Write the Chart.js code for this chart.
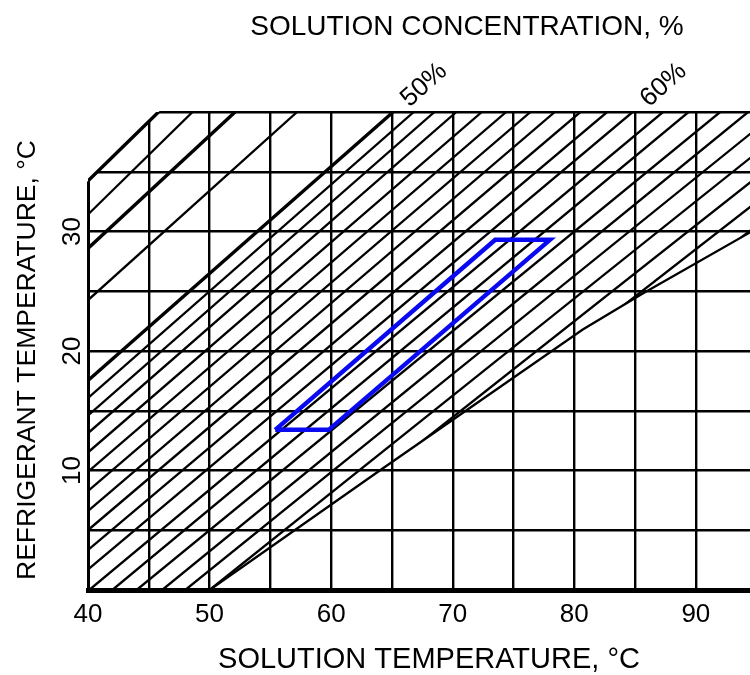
<!DOCTYPE html>
<html>
<head>
<meta charset="utf-8">
<script src="https://cdn.jsdelivr.net/npm/chart.js@4/dist/chart.umd.min.js"></script>
<style>
  html, body { margin: 0; padding: 0; background: #ffffff; overflow: hidden; }
  /* the plot runs off the right edge of the page */
  #wrap { width: 750px; height: 675px; overflow: hidden; position: relative; }
  #chart { position: absolute; left: 0; top: 0; }
</style>
</head>
<body>
<div id="wrap"><canvas id="chart" width="770" height="675"></canvas></div>
<script>
// LiBr–water equilibrium (Dühring) chart.
// Each concentration line is given by the solution temperature (°C) where it
// meets refrigerant temperature 0 °C and 40 °C.
const concentrations     = [34, 37, 40, 45, 50, 51, 52, 53, 54, 55, 56, 57, 58, 59, 60, 61, 62, 63, 64, 65, 66, 67, 68, 69];
const solTempAtRefrig0   = [5.5, 8.5, 9.7, 13.5, 20.4, 22.0, 23.6, 25.2, 26.9, 28.7, 30.5, 32.4, 34.2, 36.1, 38.0, 40.1, 42.0, 44.0, 46.1, 48.0, 50.0, 52.0, 54.0, 55.9];
const solTempAtRefrig40  = [45.8, 48.6, 52.1, 57.2, 65.1, 66.8, 68.5, 70.3, 72.4, 74.4, 76.4, 78.4, 80.5, 82.7, 84.8, 87.3, 89.4, 92.0, 94.3, 96.7, 99.2, 101.8, 104.5, 107.2];

// Crystallization boundary (solution temperature, refrigerant temperature)
const crystSolTemp    = [50.0, 64.0, 80.7, 85.6, 97.0];
const crystRefrigTemp = [0.0, 10.0, 21.8, 24.8, 31.4];

// Operating cycle outline
const cycleSolTemp    = [55.4, 59.8, 78.0, 73.5, 55.4];
const cycleRefrigTemp = [13.4, 13.4, 29.3, 29.3, 13.4];

// Axis ticks and labelled concentrations
const xTickLabels = [40, 50, 60, 70, 80, 90];
const yTickLabels = [10, 20, 30];
const labelledConcentrations = [50, 60];

const X_MIN = 40, X_MAX = 96.1, Y_MIN = 0, Y_MAX = 40, GRID_STEP = 5;
const FONT = "'Liberation Sans', Arial, sans-serif";
const HEAVY = new Set([34, 40, 50]);

const datasets = [];
datasets.push({
  label: 'cycle',
  data: cycleSolTemp.map((x, i) => ({ x, y: cycleRefrigTemp[i] })),
  showLine: true, borderColor: '#0a0af0', borderWidth: 4.5,
  borderJoinStyle: 'miter', pointRadius: 0, order: 0, tension: 0
});
datasets.push({
  label: 'crystallization',
  data: crystSolTemp.map((x, i) => ({ x, y: crystRefrigTemp[i] })),
  showLine: true, borderColor: '#000', borderWidth: 2.3, pointRadius: 0, order: 1, tension: 0
});
concentrations.forEach((c, i) => {
  datasets.push({
    label: c + '%',
    data: [{ x: solTempAtRefrig0[i], y: Y_MIN }, { x: solTempAtRefrig40[i], y: Y_MAX }],
    showLine: true, borderColor: '#000', borderWidth: HEAVY.has(c) ? 3.4 : 2.3,
    pointRadius: 0, order: 2, tension: 0, hatch: true
  });
});

// Removes the grid above the lowest concentration line (cut corner)
const cornerMask = {
  id: 'cornerMask',
  beforeDatasetsDraw(chart) {
    const { ctx, scales: { x, y }, chartArea: a } = chart;
    const x0 = x.getPixelForValue(solTempAtRefrig0[0]), y0 = y.getPixelForValue(Y_MIN);
    const x1 = x.getPixelForValue(solTempAtRefrig40[0]), y1 = y.getPixelForValue(Y_MAX);
    const k = (y1 - y0) / (x1 - x0);
    const lx = a.left - 6, ty = a.top - 6;
    ctx.save();
    ctx.fillStyle = '#fff';
    ctx.beginPath();
    ctx.moveTo(lx, ty);
    ctx.lineTo(lx, y0 + k * (lx - x0));
    ctx.lineTo(x0 + (ty - y0) / k, ty);
    ctx.closePath();
    ctx.fill();
    ctx.restore();
  }
};

// Concentration lines stop at the crystallization boundary
const crystalClip = {
  id: 'crystalClip',
  beforeDatasetDraw(chart, args) {
    const ds = chart.data.datasets[args.index];
    if (!ds.hatch) return;
    const { ctx, scales: { x, y }, chartArea: a } = chart;
    const n = crystSolTemp.length;
    ctx.save();
    ctx.beginPath();
    ctx.moveTo(a.left - 10, a.top - 10);
    ctx.lineTo(x.getPixelForValue(crystSolTemp[n - 1]), a.top - 10);
    for (let i = n - 1; i >= 0; i--) {
      ctx.lineTo(x.getPixelForValue(crystSolTemp[i]), y.getPixelForValue(crystRefrigTemp[i]));
    }
    ctx.lineTo(a.left - 10, y.getPixelForValue(Y_MIN) + 10);
    ctx.closePath();
    ctx.clip();
    ctx.beginPath();
  },
  afterDatasetDraw(chart, args) {
    const ds = chart.data.datasets[args.index];
    if (ds.hatch) chart.ctx.restore();
  }
};

// Rotated y tick labels, axis titles and concentration labels
const chartText = {
  id: 'chartText',
  afterDraw(chart) {
    const { ctx, scales: { x, y }, chartArea: a } = chart;
    ctx.save();
    ctx.fillStyle = '#000';
    ctx.textAlign = 'center';
    ctx.textBaseline = 'middle';

    ctx.font = '26px ' + FONT;
    yTickLabels.forEach(v => {
      ctx.save();
      ctx.translate(a.left - 15, y.getPixelForValue(v));
      ctx.rotate(-Math.PI / 2);
      ctx.fillText(String(v), 0, 0);
      ctx.restore();
    });

    ctx.font = '29px ' + FONT;
    ctx.fillText('SOLUTION TEMPERATURE, \u00B0C', 429, 660);
    ctx.font = '28px ' + FONT;
    ctx.fillText('SOLUTION CONCENTRATION, %', 467, 27);

    ctx.save();
    ctx.translate(28, 360);
    ctx.rotate(-Math.PI / 2);
    ctx.font = '26.5px ' + FONT;
    ctx.fillText('REFRIGERANT TEMPERATURE, \u00B0C', 0, 0);
    ctx.restore();

    labelledConcentrations.forEach(c => {
      const i = concentrations.indexOf(c);
      const px = x.getPixelForValue(solTempAtRefrig40[i]);
      const py = y.getPixelForValue(Y_MAX);
      ctx.save();
      ctx.translate(px + 31, py - 27);
      ctx.rotate(-42 * Math.PI / 180);
      ctx.font = '26px ' + FONT;
      ctx.fillText(c + '%', 0, 0);
      ctx.restore();
    });
    ctx.restore();
  }
};

new Chart(document.getElementById('chart'), {
  type: 'scatter',
  data: { datasets },
  options: {
    responsive: false,
    animation: false,
    events: [],
    layout: { padding: { left: 0, right: 0, top: 112, bottom: 0 } },
    plugins: { legend: { display: false }, tooltip: { enabled: false }, title: { display: false } },
    scales: {
      x: {
        type: 'linear', min: X_MIN, max: X_MAX,
        afterBuildTicks(scale) {
          const t = [];
          for (let v = X_MIN; v <= X_MAX + 1e-9; v += GRID_STEP) t.push({ value: v });
          scale.ticks = t;
        },
        afterFit(scale) { scale.height = 85; },
        ticks: {
          autoSkip: false, maxRotation: 0, color: '#000', padding: 9,
          font: { family: FONT, size: 26 },
          callback: v => (xTickLabels.includes(v) ? String(v) : '')
        },
        grid: { color: '#000', lineWidth: 2.4, drawTicks: false },
        border: { display: true, color: '#000', width: 5 }
      },
      y: {
        type: 'linear', min: Y_MIN, max: Y_MAX,
        afterFit(scale) { scale.width = 88; },
        ticks: { stepSize: GRID_STEP, display: false },
        grid: { color: '#000', lineWidth: 2.4, drawTicks: false },
        border: { display: true, color: '#000', width: 3 }
      }
    }
  },
  plugins: [cornerMask, crystalClip, chartText]
});
</script>
</body>
</html>
